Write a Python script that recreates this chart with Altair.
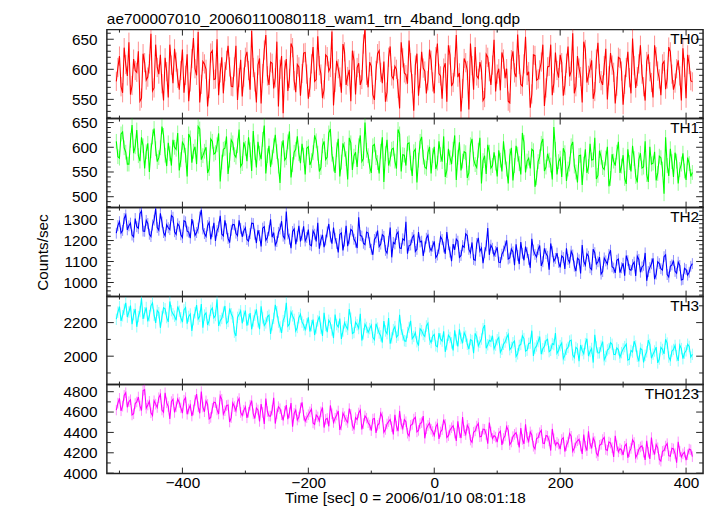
import altair as alt
import pandas as pd

FONT = "Liberation Sans"
FRAME = "#222222"
FS = 15.5

T_START = -505.0
T_END = 410.0

# even-numbered bins
th0_a = [580, 622, 561, 608, 645, 573, 598, 630, 552, 611, 587, 659, 569, 603, 624, 548, 596, 641, 577, 612,
         566, 633, 590, 547, 618, 601, 662, 575, 609, 538, 627, 583, 650, 594, 560, 615, 604, 571, 639, 586,
         555, 620, 598, 664, 579, 607, 543, 632, 589, 612, 568, 646, 600, 527, 617, 585, 636, 562, 604, 593,
         628, 551, 609, 580, 655, 592, 566, 621, 603, 540, 614, 587, 642, 574, 599, 631, 558, 610, 583, 667,
         570, 605, 549, 626, 595, 613, 562, 638, 584, 600, 535, 619, 591, 648, 576, 607, 556, 629, 597, 581,
         615, 560, 643, 589, 602, 546, 624, 578, 657, 594, 568, 611, 533, 606, 637, 585, 599, 553, 620, 574,
         649, 592, 565, 617, 601, 544, 630, 587, 608, 572, 654, 596, 559, 623, 584, 612, 539, 604, 641, 577,
         598, 624, 556, 610, 588, 660, 571, 602, 545, 633, 590, 615, 563, 644, 581, 606, 550, 627, 595, 572,
         618, 541, 603, 586, 651, 569, 609, 592, 548, 625, 578, 640, 597, 557, 613, 584, 629, 566, 601, 589,
         635, 552, 608, 579]
# odd-numbered bins
th0_b = [603, 571, 636, 589, 558, 617, 595, 547, 626, 582, 609, 564, 641, 592, 576, 619, 553, 607, 634, 585,
         598, 561, 625, 579, 652, 590, 545, 613, 600, 568, 631, 584, 557, 620, 596, 639, 572, 604, 549, 616,
         587, 629, 566, 603, 545, 618, 593, 657, 574, 610, 586, 538, 622, 599, 564, 643, 581, 608, 556, 627,
         592, 570, 637, 583, 606, 552, 624, 597, 663, 578, 601, 561, 629, 588, 547, 615, 603, 574, 642, 590,
         612, 558, 598, 631, 577, 546, 620, 589, 605, 568, 645, 594, 576, 611, 531, 626, 585, 602, 560, 633,
         579, 621, 593, 551, 610, 640, 572, 604, 587, 530, 618, 598, 643, 566, 589, 612, 548, 625, 596, 607,
         563, 601, 628, 585, 547, 616, 594, 658, 575, 609, 590, 536, 624, 582, 599, 641, 569, 605, 557, 628,
         586, 611, 573, 638, 597, 560, 622, 588, 646, 578, 602, 551, 617, 593, 574, 634, 589, 607, 543, 620,
         597, 575, 629, 560, 606, 588, 640, 571, 613, 596, 553, 621, 584, 609, 567, 637, 592, 577, 615, 548,
         603, 624, 581]

th1_a = [612, 578, 631, 590, 566, 645, 601, 583, 620, 557, 608, 593, 638, 571, 599, 624, 562, 587, 615, 596,
         553, 610, 584, 627, 569, 601, 642, 575, 592, 548, 617, 586, 605, 531, 596, 622, 574, 609, 580, 636,
         567, 598, 620, 552, 589, 611, 576, 644, 583, 560, 603, 591, 528, 614, 579, 632, 565, 596, 587, 607,
         545, 601, 573, 624, 588, 559, 612, 580, 637, 566, 595, 541, 608, 577, 619, 554, 590, 603, 571, 650,
         583, 548, 606, 569, 592, 530, 615, 576, 598, 557, 627, 585, 563, 609, 542, 596, 574, 621, 560, 589,
         547, 601, 568, 585, 622, 553, 579, 596, 534, 610, 572, 589, 548, 617, 565, 594, 527, 583, 605, 558,
         590, 541, 574, 612, 556, 582, 533, 603, 567, 629, 549, 578, 596, 520, 571, 608, 552, 587, 564, 641,
         545, 578, 598, 532, 566, 611, 550, 583, 524, 596, 561, 574, 619, 543, 580, 555, 601, 537, 572, 590,
         548, 584, 526, 569, 603, 541, 575, 558, 612, 530, 566, 591, 547, 579, 506, 563, 597, 540, 572, 555,
         588, 534, 567, 549]
th1_b = [581, 627, 599, 566, 614, 588, 635, 572, 603, 591, 550, 621, 597, 579, 642, 584, 609, 563, 600, 629,
         575, 604, 541, 619, 592, 566, 637, 583, 600, 557, 612, 589, 628, 570, 598, 546, 615, 585, 603, 561,
         610, 572, 595, 633, 559, 588, 616, 547, 603, 580, 625, 562, 597, 574, 611, 539, 590, 622, 568, 584,
         598, 564, 589, 613, 551, 603, 575, 629, 586, 548, 617, 570, 596, 535, 609, 582, 560, 624, 577, 594,
         561, 603, 579, 547, 620, 587, 563, 596, 572, 636, 551, 584, 607, 568, 591, 529, 612, 580, 557, 601,
         583, 556, 612, 571, 540, 597, 566, 624, 580, 553, 591, 538, 605, 576, 559, 619, 573, 546, 590, 563,
         568, 594, 551, 580, 527, 599, 563, 586, 545, 610, 572, 557, 593, 538, 581, 617, 560, 574, 535, 596,
         571, 540, 589, 556, 603, 562, 529, 584, 566, 548, 607, 575, 536, 593, 559, 578, 521, 586, 563, 611,
         562, 537, 596, 551, 577, 529, 588, 560, 545, 601, 568, 533, 582, 556, 620, 542, 571, 589, 527, 566,
         552, 579, 541]

th2_a = [1235, 1290, 1248, 1322, 1270, 1226, 1305, 1258, 1341, 1244, 1281, 1219, 1297, 1262, 1330, 1238, 1275, 1252, 1311, 1229,
         1268, 1214, 1289, 1240, 1302, 1225, 1259, 1346, 1233, 1271, 1206, 1284, 1247, 1318, 1222, 1256, 1190, 1277, 1235, 1296,
         1218, 1261, 1197, 1283, 1230, 1249, 1172, 1266, 1214, 1301, 1238, 1195, 1255, 1221, 1338, 1207, 1243, 1182, 1270, 1226,
         1198, 1252, 1175, 1230, 1284, 1203, 1168, 1241, 1217, 1262, 1186, 1229, 1153, 1270, 1208, 1245, 1192, 1311, 1221, 1180,
         1236, 1158, 1205, 1247, 1183, 1220, 1140, 1262, 1191, 1229, 1165, 1208, 1289, 1176, 1214, 1148, 1240, 1197, 1170, 1225,
         1152, 1196, 1131, 1218, 1169, 1240, 1145, 1183, 1207, 1120, 1176, 1232, 1158, 1191, 1106, 1213, 1164, 1142, 1259, 1178,
         1129, 1168, 1095, 1150, 1201, 1117, 1146, 1182, 1088, 1139, 1171, 1110, 1208, 1134, 1157, 1079, 1163, 1125, 1186, 1101,
         1140, 1072, 1119, 1163, 1095, 1131, 1054, 1108, 1178, 1083, 1125, 1061, 1142, 1099, 1040, 1117, 1088, 1154, 1069, 1106,
         1047, 1092, 1128, 1063, 1085, 1031, 1110, 1074, 1141, 1052, 1089, 1016, 1099, 1066, 1123, 1038, 1077, 1105, 1044, 1081,
         1015, 1062, 1049, 1090]
th2_b = [1271, 1236, 1305, 1251, 1283, 1217, 1266, 1328, 1245, 1296, 1230, 1274, 1352, 1249, 1288, 1223, 1261, 1319, 1242, 1280,
         1227, 1294, 1245, 1211, 1270, 1238, 1312, 1255, 1219, 1286, 1242, 1198, 1265, 1231, 1296, 1210, 1249, 1275, 1223, 1258,
         1246, 1205, 1233, 1281, 1188, 1224, 1259, 1201, 1247, 1216, 1178, 1239, 1292, 1209, 1231, 1164, 1255, 1220, 1196, 1268,
         1215, 1180, 1246, 1196, 1161, 1227, 1202, 1279, 1185, 1211, 1143, 1236, 1198, 1173, 1253, 1206, 1164, 1224, 1187, 1240,
         1190, 1132, 1216, 1171, 1228, 1153, 1196, 1120, 1184, 1240, 1162, 1201, 1137, 1179, 1225, 1158, 1193, 1127, 1211, 1169,
         1173, 1119, 1161, 1205, 1137, 1180, 1102, 1156, 1197, 1129, 1168, 1223, 1141, 1110, 1186, 1149, 1092, 1175, 1132, 1163,
         1148, 1097, 1135, 1174, 1112, 1160, 1083, 1129, 1193, 1106, 1142, 1070, 1154, 1121, 1176, 1099, 1138, 1061, 1147, 1115,
         1096, 1127, 1065, 1110, 1149, 1078, 1116, 1043, 1101, 1137, 1070, 1159, 1088, 1121, 1052, 1103, 1134, 1075, 1046, 1112,
         1070, 1033, 1104, 1058, 1097, 1125, 1049, 1082, 1008, 1071, 1115, 1040, 1090, 1059, 1132, 1026, 1084, 1053, 1097, 1012,
         1068, 1035, 1077]

th3_a = [2220, 2295, 2241, 2318, 2263, 2190, 2281, 2236, 2345, 2258, 2207, 2300, 2244, 2272, 2169, 2289, 2230, 2326, 2252, 2214,
         2268, 2203, 2290, 2237, 2151, 2259, 2221, 2310, 2245, 2186, 2273, 2228, 2338, 2211, 2262, 2195, 2284, 2232, 2120, 2249,
         2196, 2271, 2218, 2160, 2244, 2205, 2297, 2183, 2236, 2132, 2225, 2265, 2174, 2212, 2318, 2191, 2240, 2150, 2229, 2203,
         2158, 2231, 2182, 2126, 2210, 2167, 2259, 2143, 2197, 2108, 2188, 2224, 2150, 2176, 2281, 2135, 2202, 2165, 2093, 2190,
         2142, 2185, 2098, 2167, 2121, 2209, 2134, 2075, 2158, 2113, 2246, 2127, 2089, 2171, 2104, 2140, 2063, 2152, 2118, 2196,
         2081, 2129, 2056, 2103, 2148, 2070, 2111, 2034, 2096, 2160, 2077, 2119, 2042, 2093, 2136, 2061, 2102, 2185, 2068, 2088,
         2045, 2098, 2023, 2071, 2110, 2039, 2080, 1998, 2064, 2121, 2030, 2076, 2152, 2048, 2087, 2012, 2059, 2101, 2035, 2069,
         2017, 2063, 1985, 2041, 2090, 2008, 2052, 1970, 2034, 2075, 2001, 2046, 2127, 2019, 2060, 1979, 2037, 2081, 2011, 2049,
         1994, 2043, 2072, 1982, 2025, 2061, 1969, 2038, 2005, 2096, 1988, 2031, 1960, 2052, 2014, 2078, 1976, 2040, 2003, 2066,
         1985, 2032, 2058, 2011]
th3_b = [2262, 2210, 2279, 2233, 2301, 2248, 2175, 2266, 2222, 2290, 2241, 2317, 2198, 2259, 2236, 2282, 2204, 2271, 2238, 2296,
         2229, 2276, 2194, 2251, 2218, 2304, 2237, 2169, 2258, 2213, 2287, 2242, 2180, 2225, 2299, 2207, 2253, 2143, 2231, 2270,
         2239, 2182, 2257, 2210, 2279, 2161, 2228, 2198, 2244, 2187, 2306, 2203, 2139, 2236, 2178, 2263, 2219, 2171, 2250, 2186,
         2192, 2147, 2218, 2168, 2237, 2121, 2183, 2214, 2156, 2248, 2174, 2103, 2199, 2160, 2226, 2141, 2187, 2252, 2133, 2171,
         2164, 2112, 2193, 2138, 2081, 2150, 2227, 2109, 2176, 2125, 2160, 2092, 2141, 2211, 2118, 2086, 2163, 2129, 2180, 2101,
         2119, 2062, 2137, 2090, 2026, 2125, 2079, 2154, 2058, 2106, 2140, 2071, 2099, 2018, 2115, 2083, 2164, 2047, 2094, 2122,
         2066, 2111, 2041, 2084, 2129, 2052, 2090, 2014, 2070, 2105, 2036, 2078, 2002, 2061, 2117, 2044, 2093, 2027, 2075, 2138,
         2034, 2079, 2006, 2052, 2096, 1991, 2043, 2067, 2015, 2104, 2028, 1962, 2055, 2020, 2087, 1998, 2045, 2071, 2009, 2038,
         2021, 2057, 1977, 2034, 2089, 2000, 2047, 1963, 2026, 2070, 2012, 2054, 1983, 2040, 2101, 1995, 2030, 2064, 1972, 2045,
         2019, 2071, 1994]

th0123_a = [4620, 4735, 4658, 4790, 4702, 4571, 4684, 4748, 4615, 4820, 4669, 4592, 4711, 4645, 4773, 4598, 4690, 4532, 4726, 4651,
            4694, 4589, 4742, 4630, 4561, 4715, 4652, 4801, 4603, 4675, 4548, 4697, 4621, 4758, 4579, 4664, 4502, 4688, 4612, 4733,
            4566, 4650, 4598, 4712, 4537, 4621, 4679, 4483, 4605, 4560, 4741, 4584, 4633, 4519, 4668, 4592, 4457, 4620, 4551, 4696,
            4510, 4574, 4628, 4479, 4553, 4602, 4448, 4537, 4665, 4498, 4571, 4425, 4589, 4520, 4634, 4467, 4545, 4591, 4430, 4562,
            4495, 4418, 4536, 4470, 4589, 4402, 4483, 4527, 4381, 4462, 4611, 4438, 4505, 4365, 4479, 4548, 4420, 4497, 4342, 4468,
            4431, 4370, 4482, 4405, 4526, 4351, 4423, 4466, 4317, 4398, 4551, 4379, 4440, 4302, 4415, 4488, 4362, 4430, 4289, 4404,
            4368, 4305, 4412, 4341, 4456, 4280, 4359, 4397, 4253, 4331, 4479, 4312, 4375, 4238, 4349, 4420, 4291, 4363, 4222, 4337,
            4302, 4236, 4348, 4271, 4389, 4215, 4297, 4332, 4188, 4264, 4410, 4243, 4310, 4172, 4283, 4351, 4224, 4295, 4160, 4270,
            4241, 4178, 4286, 4210, 4327, 4153, 4232, 4268, 4129, 4205, 4349, 4183, 4249, 4118, 4222, 4290, 4165, 4238, 4102, 4213,
            4190, 4128, 4236, 4162]
th0123_b = [4688, 4612, 4764, 4647, 4721, 4583, 4699, 4660, 4812, 4637, 4705, 4566, 4678, 4741, 4620, 4789, 4655, 4703, 4596, 4729,
            4641, 4716, 4578, 4666, 4620, 4776, 4588, 4649, 4710, 4534, 4637, 4692, 4581, 4725, 4613, 4670, 4545, 4654, 4702, 4596,
            4617, 4543, 4668, 4582, 4640, 4508, 4596, 4733, 4562, 4619, 4487, 4653, 4574, 4608, 4531, 4689, 4586, 4522, 4640, 4569,
            4545, 4602, 4493, 4571, 4512, 4645, 4528, 4460, 4583, 4539, 4611, 4472, 4555, 4498, 4578, 4436, 4526, 4620, 4487, 4540,
            4472, 4531, 4395, 4488, 4552, 4429, 4506, 4457, 4574, 4413, 4482, 4526, 4392, 4469, 4531, 4405, 4487, 4560, 4436, 4491,
            4409, 4455, 4337, 4427, 4480, 4368, 4446, 4393, 4509, 4345, 4417, 4470, 4325, 4402, 4462, 4357, 4433, 4380, 4497, 4341,
            4354, 4392, 4278, 4366, 4421, 4306, 4381, 4329, 4443, 4287, 4352, 4405, 4264, 4339, 4397, 4296, 4370, 4317, 4434, 4273,
            4286, 4331, 4212, 4305, 4362, 4247, 4318, 4266, 4379, 4221, 4289, 4344, 4198, 4273, 4330, 4232, 4306, 4251, 4367, 4209,
            4227, 4264, 4151, 4243, 4301, 4186, 4257, 4206, 4318, 4140, 4229, 4281, 4135, 4214, 4266, 4172, 4245, 4192, 4307, 4158,
            4206, 4181, 4229]

series = [(th0_a, th0_b), (th1_a, th1_b), (th2_a, th2_b), (th3_a, th3_b), (th0123_a, th0123_b)]
# typical 1-sigma error bar half-length of each band
errors = [16, 15, 26, 34, 52]
labels = ["TH0", "TH1", "TH2", "TH3", "TH0123"]
colors = ["#ff0000", "#00ff00", "#0000ff", "#00ffff", "#ff00ff"]
ydomains = [[518, 666], [478, 658], [933, 1357], [1831, 2355], [3996, 4870]]
ymajor = [[550, 600, 650], [500, 550, 600, 650], [1000, 1100, 1200, 1300], [2000, 2200],
          [4000, 4200, 4400, 4600, 4800]]
yminor = [[520, 530, 540, 560, 570, 580, 590, 610, 620, 630, 640, 660],
          [480, 490, 510, 520, 530, 540, 560, 570, 580, 590, 610, 620, 630, 640],
          [940, 960, 980, 1020, 1040, 1060, 1080, 1120, 1140, 1160, 1180, 1220, 1240, 1260, 1280, 1320, 1340],
          [1900, 2100, 2300],
          [4100, 4300, 4500, 4700]]
xmajor = [-400, -200, 0, 200, 400]
xminor = [-500, -300, -100, 100, 300]
XDOM = [-520, 427]
W = 603
heights = [90, 90, 90, 89, 90]
TITLE = "ae700007010_20060110080118_wam1_trn_4band_long.qdp"
XTITLE = "Time [sec] 0 = 2006/01/10 08:01:18"
YTITLE = "Counts/sec"

MAJ = 7
MIN = 4


def merged(a, b):
    out = []
    for k, v in enumerate(a):
        out.append(v)
        if k < len(b):
            out.append(b[k])
    return out


def panel(i):
    vals = merged(*series[i])
    n = len(vals)
    H = heights[i]
    e = errors[i]
    t = [T_START + k * (T_END - T_START) / (n - 1) for k in range(n)]
    df = pd.DataFrame({"t": t, "rate": vals})
    df["lo"] = df["rate"] - e
    df["hi"] = df["rate"] + e
    xs = alt.Scale(domain=XDOM, nice=False, zero=False)
    ys = alt.Scale(domain=ydomains[i], nice=False, zero=False)

    if i == len(series) - 1:
        xenc = alt.X("t:Q", scale=xs, title=XTITLE,
                     axis=alt.Axis(values=xmajor, ticks=False, tickSize=0, domain=False, grid=False,
                                   labelPadding=2, titlePadding=0, labelFontSize=FS, titleFontSize=FS,
                                   labelFont=FONT, titleFont=FONT, labelColor="black", titleColor="black",
                                   titleFontWeight="normal", labelFlush=False))
    else:
        xenc = alt.X("t:Q", scale=xs, axis=None)

    yaxis_kw = dict(values=ymajor[i], format="d", ticks=False, tickSize=0, domain=False, grid=False,
                    labelPadding=10, labelFontSize=FS, labelFont=FONT, labelColor="black")
    if i == 2:
        yenc = alt.Y("rate:Q", scale=ys, title=YTITLE,
                     axis=alt.Axis(titlePadding=13, titleFontSize=FS, titleFont=FONT,
                                   titleColor="black", titleFontWeight="normal", **yaxis_kw))
    else:
        yenc = alt.Y("rate:Q", scale=ys, title=None, axis=alt.Axis(**yaxis_kw))

    line = alt.Chart(df).mark_line(color=colors[i], strokeWidth=1.1, clip=True).encode(x=xenc, y=yenc)
    ebar = alt.Chart(df).mark_rule(color=colors[i], strokeWidth=1, opacity=0.45, clip=True).encode(
        x=alt.X("t:Q", scale=xs, axis=None),
        y=alt.Y("lo:Q", scale=ys, axis=None),
        y2="hi:Q")

    layers = [ebar, line]
    for vals_t, ln in ((ymajor[i], MAJ), (yminor[i], MIN)):
        d = pd.DataFrame({"v": vals_t})
        layers.append(alt.Chart(d).mark_rule(color=FRAME, strokeWidth=1).encode(
            y=alt.Y("v:Q", scale=ys, axis=None), x=alt.value(0), x2=alt.value(ln)))
        layers.append(alt.Chart(d).mark_rule(color=FRAME, strokeWidth=1).encode(
            y=alt.Y("v:Q", scale=ys, axis=None), x=alt.value(W - ln), x2=alt.value(W)))
    for vals_t, ln in ((xmajor, MAJ - 1), (xminor, MIN - 1)):
        d = pd.DataFrame({"v": vals_t})
        layers.append(alt.Chart(d).mark_rule(color=FRAME, strokeWidth=1).encode(
            x=alt.X("v:Q", scale=xs, axis=None), y=alt.value(0), y2=alt.value(ln)))
        layers.append(alt.Chart(d).mark_rule(color=FRAME, strokeWidth=1).encode(
            x=alt.X("v:Q", scale=xs, axis=None), y=alt.value(H - ln), y2=alt.value(H)))

    lab = pd.DataFrame({"lab": [labels[i]]})
    layers.append(alt.Chart(lab).mark_text(align="right", baseline="top", fontSize=FS, font=FONT,
                                           color="black").encode(
        x=alt.value(W - 4), y=alt.value(3), text="lab:N"))

    ch = alt.layer(*layers).resolve_axis(x="independent", y="independent").properties(width=W, height=H)
    if i == 0:
        ch = ch.properties(title=alt.TitleParams(TITLE, anchor="start", frame="group", fontSize=FS,
                                                 font=FONT, fontWeight="normal", color="black", offset=2))
    return ch


chart = alt.vconcat(*[panel(i) for i in range(len(series))], spacing=0, bounds="flush").properties(
    padding={"left": 26, "top": 0, "right": 4, "bottom": 0},
    background="white",
).configure_view(stroke=FRAME, strokeWidth=1.5)

chart.save("out.html", embed_options={"renderer": "svg", "actions": False})
